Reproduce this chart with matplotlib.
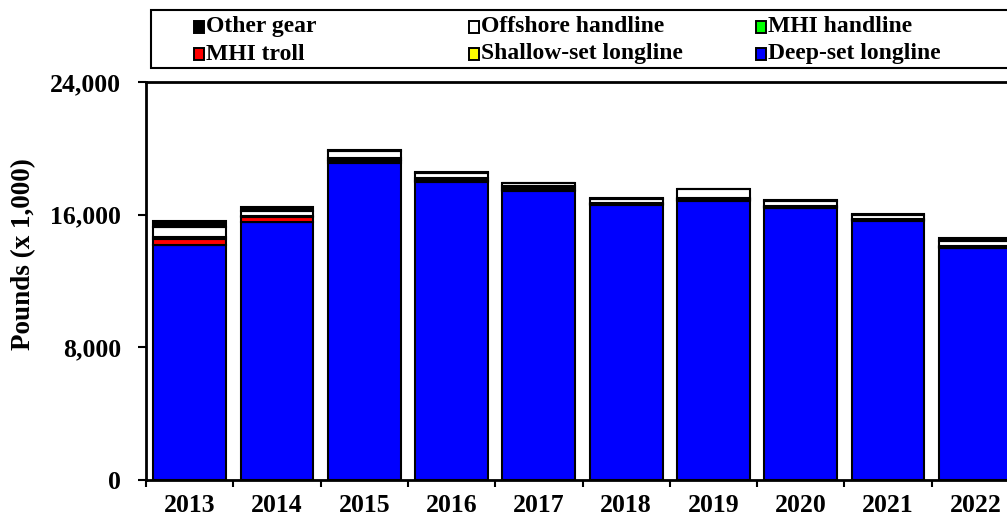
import matplotlib
matplotlib.use('Agg')
import matplotlib.pyplot as plt
from matplotlib.patches import Rectangle
import numpy as np

plt.rcParams['font.family'] = 'Liberation Serif'
plt.rcParams['font.weight'] = 'bold'

# Pounds (x 1,000) by gear type
years = ['2013', '2014', '2015', '2016', '2017', '2018', '2019', '2020', '2021', '2022']
deep_set = [14150, 15560, 19120, 17960, 17400, 16580, 16840, 16380, 15610, 13960]
shallow_set = [30, 20, 90, 80, 100, 40, 60, 50, 50, 50]
mhi_troll = [330, 300, 110, 80, 100, 40, 60, 50, 50, 50]
mhi_handline = [120, 40, 90, 80, 100, 40, 60, 50, 50, 50]
offshore = [650, 300, 400, 330, 180, 270, 500, 300, 250, 330]
other_gear = [350, 260, 80, 40, 40, 40, 40, 60, 40, 150]

series = [
    ('Deep-set longline', deep_set, '#0000FF'),
    ('Shallow-set longline', shallow_set, '#FFFF00'),
    ('MHI troll', mhi_troll, '#FF0000'),
    ('MHI handline', mhi_handline, '#00FF00'),
    ('Offshore handline', offshore, '#FFFFFF'),
    ('Other gear', other_gear, '#000000'),
]

W, H = 1007, 517
fig = plt.figure(figsize=(W / 100, H / 100), dpi=100)
ax = fig.add_axes([146 / W, 1 - 480 / H, (1019 - 146) / W, (480 - 82) / H])

x = np.arange(len(years))
bottom = np.zeros(len(years))
for name, vals, col in series:
    ax.bar(x, vals, width=0.835, bottom=bottom, color=col,
           edgecolor='black', linewidth=1.5, label=name)
    bottom += np.array(vals)

ax.set_xlim(-0.5, len(years) - 0.5)
ax.set_ylim(0, 24000)
ax.set_yticks([0, 8000, 16000, 24000])
ax.set_yticklabels(['{:,}'.format(v) for v in [0, 8000, 16000, 24000]])
ax.set_xticks(np.arange(len(years) + 1) - 0.5)
ax.set_xticklabels([])
ax.set_xticks(x, minor=True)
ax.set_xticklabels(years, minor=True)
ax.tick_params(axis='x', which='major', direction='out', length=5, width=1.5)
ax.tick_params(axis='x', which='minor', length=0, pad=10, labelsize=18.5)
ax.tick_params(axis='y', direction='out', length=6, width=1.5, pad=12, labelsize=18.5)
for s in ax.spines.values():
    s.set_linewidth(2)

fig.text(24 / W, 1 - 254 / H, 'Pounds (x 1,000)', rotation=90,
         ha='center', va='center', fontsize=19.5, fontweight='bold')

# legend box drawn the way the spreadsheet lays it out
fig.patches.append(Rectangle((151 / W, 1 - 68 / H), 1000 / W, 58 / H,
                             transform=fig.transFigure, facecolor='white',
                             edgecolor='black', linewidth=1.5))
legend_order = [['Other gear', 'MHI troll'],
                ['Offshore handline', 'Shallow-set longline'],
                ['MHI handline', 'Deep-set longline']]
colors = {name: col for name, vals, col in series}
col_x = [194, 469, 756]
row_y = [27, 54]
for ci, names in enumerate(legend_order):
    for ri, name in enumerate(names):
        fig.patches.append(Rectangle((col_x[ci] / W, 1 - (row_y[ri] + 6) / H),
                                     10 / W, 12 / H, transform=fig.transFigure,
                                     facecolor=colors[name], edgecolor='black',
                                     linewidth=1.4))
        fig.text((col_x[ci] + 12) / W, 1 - row_y[ri] / H, name,
                 ha='left', va='center', fontsize=17, fontweight='bold')

fig.savefig('out.png', dpi=100)
